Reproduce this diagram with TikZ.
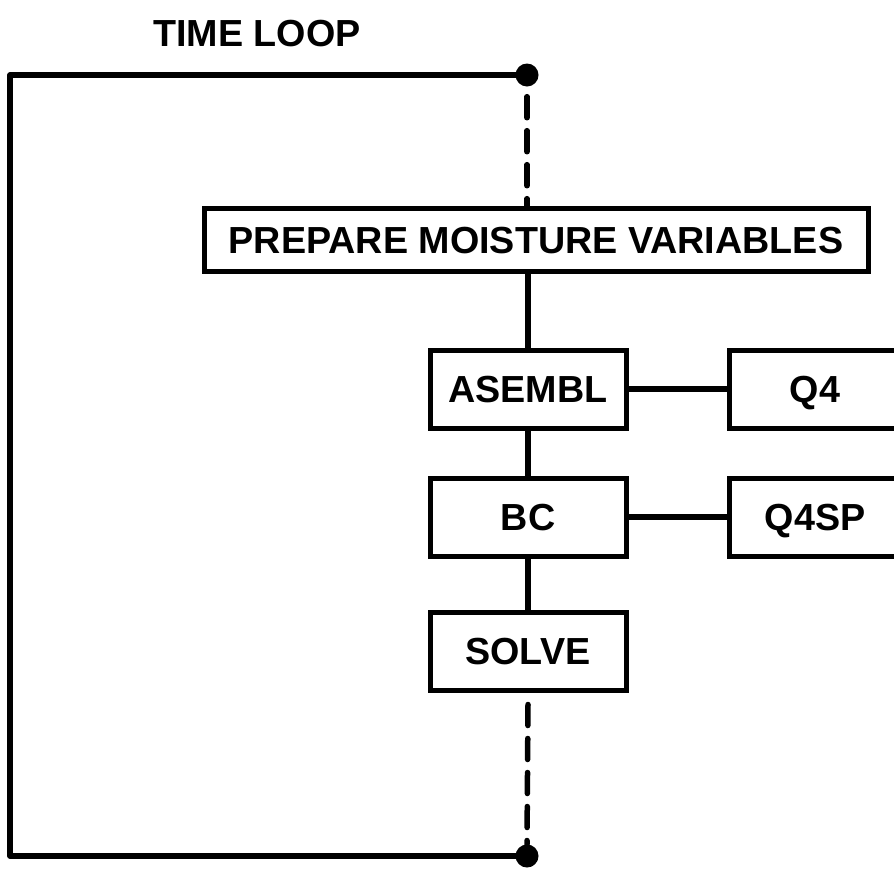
\documentclass[tikz,border=0pt]{standalone}
\usepackage{fontspec}
\setmainfont{Liberation Sans}
\begin{document}
\begin{tikzpicture}[x=1pt,y=-1pt,
  lbl/.style={font=\bfseries\fontsize{37.7}{40}\selectfont, text height=27pt, text depth=0pt},
  box/.style={draw, rectangle, line width=5pt, inner sep=0pt, lbl},
  link/.style={line width=5.5pt, line join=round},
  dashlink/.style={line width=5.5pt, dash pattern=on 21pt off 13pt, line cap=round},
  dot/.style={circle, fill, inner sep=0pt, minimum size=23pt}]
\useasboundingbox (0,0) rectangle (894,868);
\clip (0,0) rectangle (894,868);
\node[lbl] (title) at (257,33) {TIME LOOP};
\coordinate (tl) at (10,75);
\coordinate (bl) at (10,856);
\node[dot] (topdot) at (527,75) {};
\node[dot] (botdot) at (527,856) {};
\node[box, minimum width=664pt, minimum height=63pt] (prep) at (536,240) {PREPARE MOISTURE VARIABLES};
\node[box, minimum width=196pt, minimum height=78pt] (asembl) at (528,389) {ASEMBL};
\node[box, minimum width=196pt, minimum height=78pt] (bc) at (528,517) {BC};
\node[box, minimum width=196pt, minimum height=78pt] (solve) at (528,651) {SOLVE};
\node[box, minimum width=180pt, minimum height=78pt] (q4) at (819,389) {\hspace*{-8pt}Q4};
\node[box, minimum width=180pt, minimum height=78pt] (q4sp) at (819,517) {\hspace*{-8pt}Q4SP};
\draw[link] (topdot.center) -- (tl) -- (bl) -- (botdot.center);
\draw[dashlink] (topdot.south) ++(0,10) -- (topdot |- prep.north);
\draw[link] (asembl.north |- prep.south) -- (asembl.north);
\draw[link] (asembl) -- (bc);
\draw[link] (bc) -- (solve);
\draw[link] (asembl) -- (q4);
\draw[link] (bc) -- (q4sp);
\draw[dashlink] (solve.south) ++(0,12) -- (botdot.north);
\end{tikzpicture}
\end{document}
